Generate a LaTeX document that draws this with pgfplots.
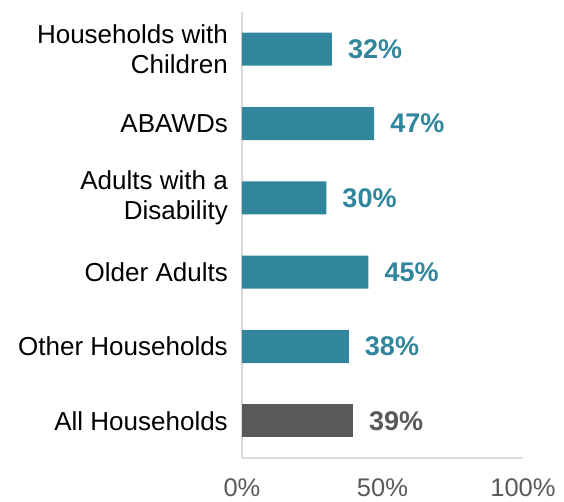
\documentclass[border=0pt]{standalone}
\usepackage{pgfplots}
\pgfplotsset{compat=1.18}
\usepackage{fontspec}
\setmainfont{Liberation Sans}
\definecolor{teal1}{HTML}{31859C}
\definecolor{dgray}{HTML}{595959}
\definecolor{axgray}{HTML}{D9D9D9}
\begin{document}
\begin{tikzpicture}
\begin{axis}[name=ax, width=281bp, height=446bp, scale only axis,
 xmin=0, xmax=100, ymin=-0.5, ymax=5.5,
 axis x line*=bottom, axis y line*=left,
 axis line style={axgray, line width=1.5bp, -},
 xtick={0,50,100}, xticklabels={0\%,50\%,100\%},
 ytick={0,...,5},
 yticklabels={All Households, Other Households, Older Adults, {Adults with a\\Disability}, ABAWDs, {Households with\\Children}},
 major tick length=0pt,
 tick style={draw=none},
 xticklabel style={font=\fontsize{25.5bp}{30bp}\selectfont, text=dgray, inner sep=0pt, anchor=north, yshift=-20bp},
 yticklabel style={font=\fontsize{26bp}{30bp}\selectfont, text=black, align=right, inner sep=0pt, anchor=east, xshift=-14bp},
 /pgf/number format/assume math mode=true,
 xbar, bar width=33bp,
 nodes near coords={\pgfplotspointmeta\%}, point meta=explicit symbolic,
 nodes near coords style={font=\bfseries\fontsize{27bp}{30bp}\selectfont, anchor=west, inner sep=0pt, xshift=16bp},
 clip=false,
]
\addplot[fill=teal1, draw=none, bar shift=0pt, nodes near coords style={text=teal1}] table[x=x, y=y, meta=label] {
x y label
32 5 32
47 4 47
30 3 30
45 2 45
38 1 38
};
\addplot[fill=dgray, draw=none, bar shift=0pt, nodes near coords style={text=dgray}] table[x=x, y=y, meta=label] {
x y label
39.5 0 39
};
\end{axis}
\pgfresetboundingbox
\path[use as bounding box] ([shift={(-242bp,-44bp)}]ax.south west) rectangle ++(564bp,502bp);
\end{tikzpicture}
\end{document}
